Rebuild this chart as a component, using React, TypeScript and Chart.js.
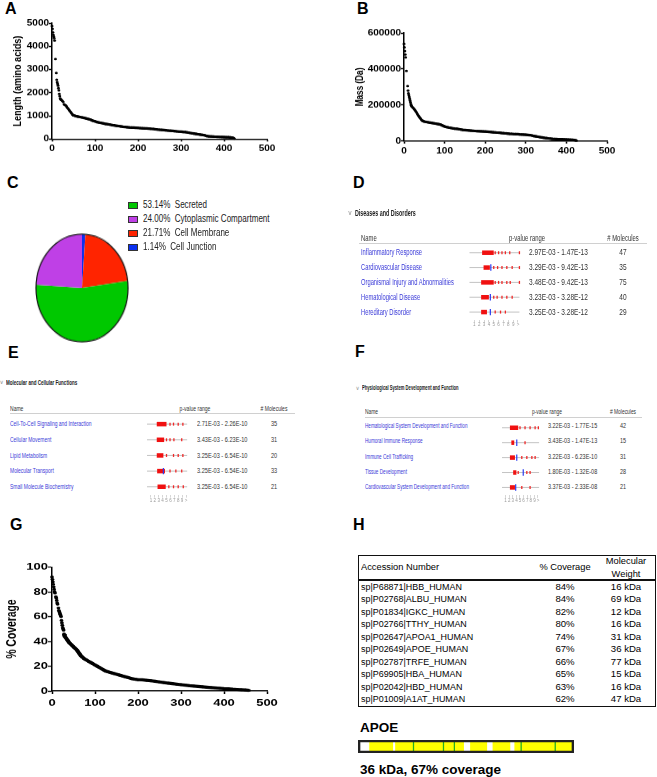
import React, { useEffect, useRef } from "react";
import { Chart, registerables } from "chart.js";

Chart.register(...registerables);

const SANS = "'Liberation Sans', Arial, Helvetica, sans-serif";
const NARROW_SX = 0.82;
Chart.defaults.font.family = SANS;

// ---------------- Panel A : protein length by rank ----------------
const lengthRanks = [0,1,2,3,4,5,6,8,10,11,12,13,14,15,16,17,18,19,20,21,22,24,26,28,30,32,34,36,38,40,42,44,46,48,50,
  55,60,65,70,75,80,85,90,95,100,105,110,115,120,125,130,135,140,145,150,155,160,165,170,175,180,185,190,195,200,
  205,210,215,220,225,230,235,240,245,250,255,260,265,270,275,280,285,290,295,300,305,310,315,320,325,330,335,340,345,350,
  355,360,365,370,375,380,385,390,395,400,405,410,415,420,424];
const lengthValues = [4880,4750,4600,4500,4420,4350,4250,3450,2850,2560,2450,2380,2300,2200,2100,1950,1850,1750,1720,1700,1680,1650,1600,1500,1470,1450,1400,1350,1300,1250,1200,1150,1100,1050,1020,
  990,970,950,930,910,890,860,830,790,760,730,710,690,670,650,640,620,600,590,570,560,545,530,520,510,500,495,490,485,480,
  470,465,460,455,450,440,435,420,410,400,395,385,375,365,360,350,340,330,320,315,305,300,285,265,250,235,220,205,190,175,
  160,130,115,110,105,100,95,90,88,85,80,78,70,55,20];

// ---------------- Panel B : protein mass by rank ----------------
const massRanks = [0,1,2,3,4,6,9,10,11,12,13,14,15,16,17,18,19,21,23,25,27,29,31,33,35,37,39,41,43,45,47,50,
  55,60,65,70,75,80,85,90,95,100,105,110,115,120,125,130,135,140,145,150,155,160,165,170,175,180,185,190,195,200,
  205,210,215,220,225,230,235,240,245,250,255,260,265,270,275,280,285,290,295,300,305,310,315,320,325,330,335,340,345,350,
  355,360,365,370,375,380,385,390,395,400,405,410,415,420,425];
const massValues = [540000,520000,500000,480000,465000,390000,305000,280000,265000,255000,245000,235000,225000,215000,205000,198000,193000,188000,183000,178000,172000,165000,158000,150000,143000,137000,130000,124000,118000,114000,111000,108000,
  106000,104000,102000,100000,98000,96000,94000,91000,86000,81000,78000,75000,73000,71000,69000,68000,66000,64000,62000,61000,
  60000,59000,58000,57000,56000,55000,54500,54000,53500,53000,52000,51000,50000,49000,48000,47000,46500,45000,44000,42500,
  41500,40500,40000,39000,38500,38000,37000,36500,36000,35000,34000,33000,31000,28000,26000,24000,22000,20000,18000,16500,
  15000,14000,12500,11500,11000,10500,10000,9500,9000,8500,8000,7500,7000,5500,3000];

// ---------------- Panel G : % coverage by rank ----------------
const coverageRanks = [0,1,2,3,4,5,6,7,9,10,11,12,13,15,16,17,18,19,20,21,22,23,24,25,26,27,28,29,30,32,34,36,38,40,43,46,49,52,55,58,61,64,67,70,
  75,80,85,90,95,100,105,110,115,120,125,130,135,140,145,150,155,160,165,170,175,180,185,190,195,200,
  210,220,230,240,250,260,270,280,290,300,310,320,330,340,350,360,370,380,390,400,410,420,430,440,450,458];
const coverageValues = [92,90,88,86,84,82,80,79,76,75,73,71,70,67,65,64,63,62,61,60,57,55,53,51,50,49,46,45,44,43,42,41,40,39,38,37,36,35,34,33,31.5,30,28.5,27.5,
  26,25,24,23,22,21,20,19,18,17,16,15.5,15,14.5,14,13.5,13,12.5,12,11.5,11,10.5,10,9.7,9.4,9.1,
  9,8.6,8.2,7.8,7.3,6.8,6.3,5.9,5.5,5.1,4.7,4.3,4,3.7,3.4,3.1,2.8,2.5,2.2,1.9,1.7,1.4,1.2,1.0,0.8,0.5];

const rankTicks = [0, 100, 200, 300, 400, 500];
const lengthTicks = [0, 1000, 2000, 3000, 4000, 5000];
const massTicks = [0, 200000, 400000, 600000];
const coverageTicks = [0, 20, 40, 60, 80, 100];

// ---------------- Panel C : subcellular location ----------------
const locationLabels = ["Secreted", "Cytoplasmic Compartment", "Cell Membrane", "Cell Junction"];
const locationPercents = [53.14, 24.0, 21.71, 1.14];
const locationColors = ["#00c800", "#bf40e6", "#ff2400", "#0a30f0"];
const pieDrawOrder = [3, 2, 0, 1];

// ---------------- Panels D, E, F : pathway tables ----------------
const diseaseNames = ["Inflammatory Response", "Cardiovascular Disease", "Organismal Injury and Abnormalities", "Hematological Disease", "Hereditary Disorder"];
const diseasePValues = ["2.97E-03 - 1.47E-13", "3.29E-03 - 9.42E-13", "3.48E-03 - 9.42E-13", "3.23E-03 - 3.28E-12", "3.25E-03 - 3.28E-12"];
const diseaseCounts = [47, 35, 75, 40, 29];
const diseaseClusters = [[2.6, 5.0], [2.9, 4.2], [2.4, 5.0], [2.4, 4.0], [2.4, 3.6]];
const diseaseBlue = [null, 4.4, null, 4.3, 4.3];
const diseaseDots = [[5.3, 6.0, 6.7, 7.4, 8.3, 10.3], [5.0, 5.8, 6.7, 7.7, 8.8, 10.3], [5.3, 6.0, 6.7, 7.7, 8.4, 10.3], [5.0, 5.7, 6.7, 7.7, 8.8], [5.3, 6.4, 7.4]];

const molNames = ["Cell-To-Cell Signaling and Interaction", "Cellular Movement", "Lipid Metabolism", "Molecular Transport", "Small Molecule Biochemistry"];
const molPValues = ["2.71E-03 - 2.26E-10", "3.43E-03 - 6.23E-10", "3.25E-03 - 6.54E-10", "3.25E-03 - 6.54E-10", "3.25E-03 - 6.54E-10"];
const molCounts = [35, 31, 20, 33, 21];
const molClusters = [[2.5, 5.0], [2.5, 4.4], [2.5, 4.2], [2.6, 4.6], [2.7, 4.8]];
const molBlue = [null, null, null, 4.2, null];
const molDots = [[5.9, 6.8, 8.0, 9.2], [5.0, 5.9, 6.9, 8.9], [5.0, 6.8, 8.0, 9.2], [5.9, 7.4, 8.9], [5.6, 6.8, 8.0, 9.3]];

const physNames = ["Hematological System Development and Function", "Humoral Immune Response", "Immune Cell Trafficking", "Tissue Development", "Cardiovascular System Development and Function"];
const physPValues = ["3.22E-03 - 1.77E-15", "3.43E-03 - 1.47E-13", "3.22E-03 - 6.23E-10", "1.80E-03 - 1.32E-08", "3.37E-03 - 2.33E-08"];
const physCounts = [42, 15, 31, 28, 21];
const physClusters = [[2.2, 4.5], [2.6, 3.4], [2.2, 3.6], [3.1, 4.0], [2.2, 3.6]];
const physBlue = [null, 4.1, 4.1, 5.9, 3.8];
const physDots = [[5.0, 6.4, 7.8, 9.2, 10.1], [6.4], [5.5, 6.9, 8.3, 9.2], [4.5, 6.9, 7.8], [5.5, 7.8]];

const sparkTicks = [1, 2, 3, 4, 5, 6, 7, 8, 9, 10];
const sparkBaseline = [0, 10.3];

// ---------------- Panel H : top proteins ----------------
const accessions = ["sp|P68871|HBB_HUMAN", "sp|P02768|ALBU_HUMAN", "sp|P01834|IGKC_HUMAN", "sp|P02766|TTHY_HUMAN", "sp|P02647|APOA1_HUMAN",
  "sp|P02649|APOE_HUMAN", "sp|P02787|TRFE_HUMAN", "sp|P69905|HBA_HUMAN", "sp|P02042|HBD_HUMAN", "sp|P01009|A1AT_HUMAN"];
const coverages = ["84%", "84%", "82%", "80%", "74%", "67%", "66%", "65%", "63%", "62%"];
const weights = ["16 kDa", "69 kDa", "12 kDa", "16 kDa", "31 kDa", "36 kDa", "77 kDa", "15 kDa", "16 kDa", "47 kDa"];

// APOE sequence coverage map (residues)
const apoeLength = 317;
const apoeCovered = [[17, 51], [55, 155], [165, 189], [198, 223], [230, 315]];
const apoePeptideBreaks = [81, 125, 141, 239, 289];

// ------------------------------------------------------------------
function ChartCanvas({ make, left, top, width, height, transform, origin }: any) {
  const ref = useRef<HTMLCanvasElement>(null);
  useEffect(() => {
    const chart = new Chart(ref.current as HTMLCanvasElement, make());
    return () => chart.destroy();
  }, []);
  return (
    <canvas
      ref={ref}
      width={width}
      height={height}
      style={{ position: "absolute", left, top, width, height, display: "block", transform, transformOrigin: origin || "top left" }}
    />
  );
}

function T({ x, y, size, children, bold, color = "#000", align = "left", family = SANS, sx = 1 }: any) {
  const lh = size * 1.25;
  const style: any = {
    position: "absolute", top: y - lh / 2, fontSize: size, lineHeight: lh + "px", fontWeight: bold ? 700 : 400,
    color, fontFamily: family, whiteSpace: "pre",
  };
  if (align === "left") { style.left = x; style.transformOrigin = "left center"; }
  else if (align === "center") { style.left = x - 150; style.width = 300; style.textAlign = "center"; style.transformOrigin = "center center"; }
  else { style.right = 657 - x; style.transformOrigin = "right center"; }
  if (sx !== 1) style.transform = `scaleX(${sx})`;
  return <div style={style}>{children}</div>;
}

function curveConfig(o: any): any {
  const pts = o.ranks.map((r: number, i: number) => ({ x: r, y: o.values[i] }));
  const tickFont = { family: SANS, size: o.tickSize, weight: "bold" };
  const grid = { drawOnChartArea: false, drawTicks: true, tickLength: o.tickLen, tickColor: "#000", tickWidth: 1.5 };
  const border = { display: true, color: "#000", width: 1.5 };
  return {
    type: "scatter",
    data: {
      datasets: [{
        data: pts, showLine: true, borderColor: "#000", borderWidth: o.lineW,
        pointRadius: o.pointR, pointBackgroundColor: "#000", pointBorderWidth: 0, pointHoverRadius: 0, clip: false,
        segment: {
          borderColor: (ctx: any) =>
            ctx.p0.parsed.x >= o.denseFrom && Math.abs(ctx.p1.y - ctx.p0.y) < 6 ? "#000" : "rgba(0,0,0,0)",
        },
      }],
    },
    options: {
      animation: false, responsive: false, events: [],
      layout: { padding: o.pad },
      plugins: { legend: { display: false }, tooltip: { enabled: false } },
      scales: {
        x: {
          type: "linear", min: 0, max: 500,
          afterBuildTicks: (s: any) => { s.ticks = rankTicks.map((v) => ({ value: v })); },
          afterFit: (s: any) => { s.height = o.xHeight; },
          grid, border,
          ticks: { color: "#000", font: tickFont, padding: o.xTickPad, maxRotation: 0, autoSkip: false, callback: (v: any) => String(v) },
        },
        y: {
          type: "linear", min: 0, max: o.yTicks[o.yTicks.length - 1],
          afterBuildTicks: (s: any) => { s.ticks = o.yTicks.map((v: number) => ({ value: v })); },
          afterFit: (s: any) => { s.width = o.yWidth; },
          grid, border,
          ticks: { color: "#000", font: tickFont, padding: 0, autoSkip: false, callback: (v: any) => String(v) },
          title: { display: true, text: o.yTitle, color: "#000", font: { family: SANS, size: o.titleSize, weight: "bold" }, padding: { top: o.titlePad, bottom: 0 } },
        },
      },
    },
  };
}

function pieConfig(): any {
  const outline = {
    id: "outline",
    afterDatasetsDraw(chart: any) {
      const arc = chart.getDatasetMeta(0).data[0];
      if (!arc) return;
      const ctx = chart.ctx;
      ctx.save();
      ctx.beginPath();
      ctx.arc(arc.x, arc.y, arc.outerRadius, 0, Math.PI * 2);
      ctx.lineWidth = 1.2;
      ctx.strokeStyle = "#111";
      ctx.stroke();
      ctx.restore();
    },
  };
  return {
    type: "pie",
    data: {
      labels: pieDrawOrder.map((i) => locationLabels[i]),
      datasets: [{
        data: pieDrawOrder.map((i) => locationPercents[i]),
        backgroundColor: pieDrawOrder.map((i) => locationColors[i]),
        borderWidth: 0,
      }],
    },
    options: {
      animation: false, responsive: false, events: [],
      layout: { padding: 1 },
      plugins: { legend: { display: false }, tooltip: { enabled: false } },
    },
    plugins: [outline],
  };
}

function sparkConfig(sp: any): any {
  const datasets: any[] = [];
  datasets.push({
    data: sp.blue.map((v: any, i: number) => (v == null ? null : { x: v, y: i })).filter(Boolean),
    showLine: false, pointStyle: "line", pointRotation: 90, pointRadius: 3.2,
    borderColor: "#2a3cf0", pointBorderColor: "#2a3cf0", pointBorderWidth: 1.2, clip: false,
  });
  datasets.push({
    data: sp.dots.flatMap((row: number[], i: number) => row.map((v) => ({ x: v, y: i }))),
    showLine: false, pointStyle: "line", pointRotation: 90, pointRadius: 1.5,
    borderColor: "#f02828", pointBorderColor: "#f02828", pointBorderWidth: 1.3, clip: false,
  });
  sp.clusters.forEach((c: number[], i: number) => {
    datasets.push({ data: [{ x: c[0], y: i }, { x: c[1], y: i }], showLine: true, borderColor: "#f01010", borderWidth: 4.5, pointRadius: 0, clip: false });
  });
  sp.clusters.forEach((_c: number[], i: number) => {
    datasets.push({ data: [{ x: sparkBaseline[0], y: i }, { x: sparkBaseline[1], y: i }], showLine: true, borderColor: "#b4b4b4", borderWidth: 0.8, pointRadius: 0, clip: false });
  });
  return {
    type: "scatter",
    data: { datasets },
    options: {
      animation: false, responsive: false, events: [],
      layout: { padding: sp.pad },
      plugins: { legend: { display: false }, tooltip: { enabled: false } },
      scales: {
        x: {
          type: "linear", min: 0, max: 10.5,
          afterBuildTicks: (s: any) => { s.ticks = sparkTicks.map((v) => ({ value: v })); },
          afterFit: (s: any) => { s.height = 12; },
          grid: { drawOnChartArea: false, drawTicks: true, tickLength: 3, tickColor: "#bbb", tickWidth: 0.6 },
          border: { display: false },
          ticks: { color: "#999", font: { family: SANS, size: 4.5 }, padding: 0, maxRotation: 0, autoSkip: false, callback: (v: any) => (v === 10 ? ">" : String(v)) },
        },
        y: { type: "linear", min: -0.5, max: 4.5, reverse: true, display: false },
      },
    },
  };
}

function apoeConfig(): any {
  const bar = { barPercentage: 1, categoryPercentage: 1, grouped: false, borderSkipped: false };
  const datasets: any[] = [];
  datasets.push({ ...bar, data: [[0, apoeLength]], backgroundColor: "rgba(0,0,0,0)", borderColor: "#222", borderWidth: 2 });
  apoePeptideBreaks.forEach((p) => datasets.push({ ...bar, data: [[p, p + 0.9]], backgroundColor: "#22b022", borderWidth: 0 }));
  apoeCovered.forEach((seg) => datasets.push({ ...bar, data: [seg], backgroundColor: "#ffff00", borderWidth: 0 }));
  datasets.push({ ...bar, data: [[0, apoeLength]], backgroundColor: "#ffffff", borderWidth: 0 });
  return {
    type: "bar",
    data: { labels: ["APOE"], datasets },
    options: {
      indexAxis: "y", animation: false, responsive: false, events: [],
      layout: { padding: 0 },
      plugins: { legend: { display: false }, tooltip: { enabled: false } },
      scales: { x: { display: false, min: 0, max: apoeLength }, y: { display: false } },
    },
  };
}

function PathwayTable({ s }: any) {
  const fs = s.fs;
  return (
    <>
      <T x={s.chevronX} y={s.headingY} size={fs * 0.8} color="#999" family="'DejaVu Sans', sans-serif">∨</T>
      <T x={s.headingX} y={s.headingY} size={fs} bold color="#222" sx={s.headingSx}>{s.heading}</T>
      <T x={s.nameX} y={s.headerY} size={fs} color="#333" sx={0.7}>Name</T>
      <T x={s.pHeaderX} y={s.headerY} size={fs} color="#333" align="center" sx={0.7}>p-value range</T>
      <T x={s.countX} y={s.headerY} size={fs} color="#333" align="center" sx={0.7}># Molecules</T>
      <div style={{ position: "absolute", left: s.lineX1, top: s.lineY, width: s.lineX2 - s.lineX1, height: 1, background: "#d0d0d0" }} />
      {s.names.map((nm: string, i: number) => (
        <React.Fragment key={i}>
          <T x={s.nameX} y={s.rowY0 + i * s.rowStep} size={fs} color="#3a3ad8" sx={s.nameSx}>{nm}</T>
          <T x={s.pX} y={s.rowY0 + i * s.rowStep} size={fs} color="#333" sx={0.78}>{s.pvals[i]}</T>
          <T x={s.countX} y={s.rowY0 + i * s.rowStep} size={fs} color="#333" align="center" sx={0.78}>{String(s.counts[i])}</T>
        </React.Fragment>
      ))}
      <ChartCanvas make={() => sparkConfig(s.spark)} left={s.spark.left} top={s.spark.top} width={s.spark.w} height={s.spark.h} />
    </>
  );
}

const tableD = {
  heading: "Diseases and Disorders", chevronX: 347.5, headingX: 355, headingY: 213.5, fs: 8.4, headingSx: 0.64, nameSx: 0.69,
  headerY: 238.3, nameX: 360.7, pHeaderX: 526.7, countX: 623,
  lineY: 243, lineX1: 359, lineX2: 647,
  rowY0: 252, rowStep: 15, pX: 529.3,
  names: diseaseNames, pvals: diseasePValues, counts: diseaseCounts,
  spark: { left: 462, top: 240, w: 68, h: 95, pad: { left: 7.5, right: 9.6, top: 4.5, bottom: 3.5 }, clusters: diseaseClusters, blue: diseaseBlue, dots: diseaseDots },
};
const tableE = {
  heading: "Molecular and Cellular Functions", chevronX: -0.5, headingX: 5.5, headingY: 382.7, fs: 7.2, headingSx: 0.63, nameSx: 0.69,
  headerY: 408.3, nameX: 10.3, pHeaderX: 195, countX: 274.3,
  lineY: 413, lineX1: 10, lineX2: 295,
  rowY0: 423.3, rowStep: 15.85, pX: 196.7,
  names: molNames, pvals: molPValues, counts: molCounts,
  spark: { left: 140, top: 411, w: 56, h: 100, pad: { left: 7, right: 8.05, top: 4.4, bottom: 4.4 }, clusters: molClusters, blue: molBlue, dots: molDots },
};
const tableF = {
  heading: "Physiological System Development and Function", chevronX: 355.5, headingX: 362, headingY: 388, fs: 7, headingSx: 0.59, nameSx: 0.66,
  headerY: 412.7, nameX: 365, pHeaderX: 546.7, countX: 622.6,
  lineY: 417, lineX1: 365, lineX2: 642,
  rowY0: 426.7, rowStep: 15.15, pX: 548.3,
  names: physNames, pvals: physPValues, counts: physCounts,
  spark: { left: 495, top: 415, w: 52, h: 95, pad: { left: 7, right: 7.2, top: 4.1, bottom: 3.1 }, clusters: physClusters, blue: physBlue, dots: physDots },
};

export default function App() {
  const rowYs = accessions.map((_a, i) => 586.7 + i * 12.5);
  return (
    <div style={{ position: "absolute", left: 0, top: 0, width: 657, height: 777, overflow: "hidden", background: "#fff", fontFamily: SANS }}>
      {/* panel letters */}
      <T x={5} y={8.5} size={16} bold>A</T>
      <T x={357} y={8.5} size={16} bold>B</T>
      <T x={7} y={183} size={16} bold>C</T>
      <T x={353} y={182.5} size={16} bold>D</T>
      <T x={8} y={352.5} size={16} bold>E</T>
      <T x={355} y={351.5} size={16} bold>F</T>
      <T x={10} y={525} size={16} bold>G</T>
      <T x={353} y={525} size={16} bold>H</T>

      {/* A */}
      <ChartCanvas
        make={() => curveConfig({
          ranks: lengthRanks, values: lengthValues, denseFrom: 48, yTicks: lengthTicks, yTitle: "Length (amino acids)",
          tickSize: 10, titleSize: 11, titlePad: 11.4, yWidth: 52, xHeight: 30, xTickPad: 3.4, tickLen: 3,
          pad: { top: 16, right: 33, bottom: 7.7, left: 0 }, pointR: 1.5, lineW: 3.2,
        })}
        left={0} top={10} width={300} height={195} transform="scaleY(0.82)"
      />
      {/* B */}
      <ChartCanvas
        make={() => curveConfig({
          ranks: massRanks, values: massValues, denseFrom: 45, yTicks: massTicks, yTitle: "Mass (Da)",
          tickSize: 10, titleSize: 10, titlePad: 24, yWidth: 74, xHeight: 28, xTickPad: 3.2, tickLen: 3,
          pad: { top: 28, right: 23, bottom: 7.2, left: 0 }, pointR: 1.5, lineW: 3.2,
        })}
        left={330} top={10} width={300} height={195} transform="scaleY(0.82)"
      />

      {/* C */}
      <ChartCanvas make={pieConfig} left={32} top={238} width={100} height={100} transform="scale(0.94, 1.1)" origin="center center" />
      {locationLabels.map((l, i) => {
        const cy = 205 + i * 14.2;
        return (
          <React.Fragment key={l}>
            <div style={{ position: "absolute", left: 128, top: cy - 3.5, width: 10, height: 7, boxSizing: "border-box", background: locationColors[i], border: "1px solid #333" }} />
            <T x={143} y={cy} size={10.2} color="#222" sx={0.79}>{locationPercents[i].toFixed(2) + "%  " + l}</T>
          </React.Fragment>
        );
      })}

      {/* D, E, F */}
      <PathwayTable s={tableD} />
      <PathwayTable s={tableE} />
      <PathwayTable s={tableF} />

      {/* G */}
      <ChartCanvas
        make={() => curveConfig({
          ranks: coverageRanks, values: coverageValues, denseFrom: 28, yTicks: coverageTicks, yTitle: "% Coverage",
          tickSize: 13, titleSize: 14, titlePad: 4, yWidth: 52, xHeight: 26, xTickPad: 4.4, tickLen: 4,
          pad: { top: 36.5, right: 33, bottom: 6, left: 0 }, pointR: 1.9, lineW: 4.2,
        })}
        left={0} top={540} width={300} height={236} transform="scaleY(0.74)"
      />

      {/* H table */}
      <div style={{ position: "absolute", left: 358, top: 555, width: 298, height: 152, boxSizing: "border-box", border: "1.5px solid #111" }} />
      <div style={{ position: "absolute", left: 358, top: 579, width: 298, height: 2, background: "#111" }} />
      <T x={361} y={567.3} size={9.6} sx={0.97}>Accession Number</T>
      <T x={565} y={567.3} size={9.6} align="center" sx={0.97}>% Coverage</T>
      <T x={626} y={560.5} size={9.6} align="center" sx={0.97}>Molecular</T>
      <T x={626} y={573.5} size={9.6} align="center" sx={0.97}>Weight</T>
      {accessions.map((a, i) => (
        <React.Fragment key={a}>
          <T x={361} y={rowYs[i]} size={9.6} sx={0.93}>{a}</T>
          <T x={565} y={rowYs[i]} size={9.6} align="center">{coverages[i]}</T>
          <T x={626} y={rowYs[i]} size={9.6} align="center">{weights[i]}</T>
        </React.Fragment>
      ))}

      {/* APOE coverage */}
      <T x={360} y={728} size={13.5} bold>APOE</T>
      <ChartCanvas make={apoeConfig} left={358} top={740} width={216} height={13} />
      <T x={360} y={770} size={13.5} bold>36 kDa, 67% coverage</T>
    </div>
  );
}
